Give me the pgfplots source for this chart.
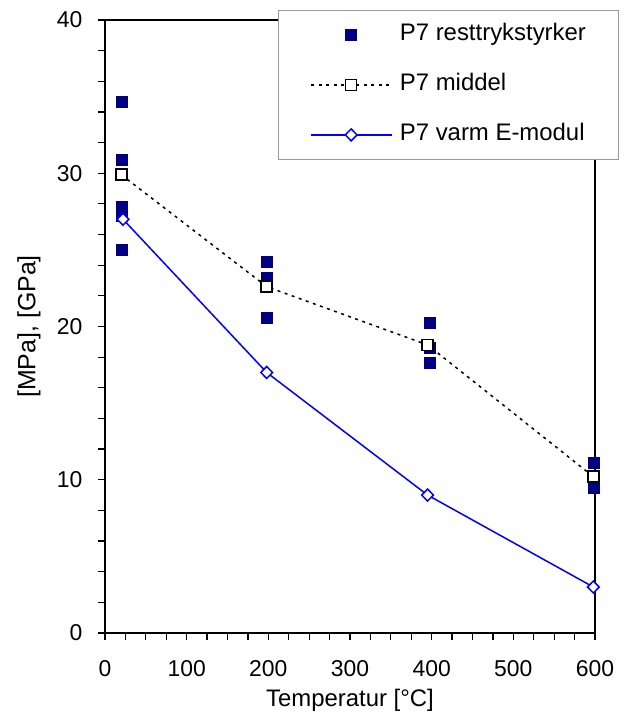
\documentclass[border=0pt]{standalone}
\usepackage{fontspec}
\setmainfont{Liberation Sans}
\usepackage{pgfplots}
\pgfplotsset{compat=1.18}
\definecolor{navy}{RGB}{0,0,128}
\definecolor{eblue}{RGB}{0,0,255}
\begin{document}
\begin{tikzpicture}
\useasboundingbox (-105bp,-84bp) rectangle (524bp,633bp);
\begin{axis}[
  scale only axis, width=490bp, height=613bp,
  at={(0,0)}, anchor=south west,
  xmin=0, xmax=600, ymin=0, ymax=40,
  xtick={0,100,...,600}, ytick={0,10,...,40},
  minor x tick num=3, minor y tick num=4,
  xtick pos=bottom, ytick pos=left,
  tick align=outside, major tick length=7bp, minor tick length=7bp,
  axis line style={line width=1.2bp},
  tick style={line width=1.2bp, black},
  font=\fontsize{23}{27}\selectfont,
  /pgf/number format/assume math mode=true,
  xticklabel style={yshift=-17bp},
  yticklabel style={xshift=-12bp},
  xlabel={Temperatur [°C]}, ylabel={[MPa], [GPa]},
  xlabel style={at={(axis description cs:0.5,-0.1207)}, anchor=base, font=\fontsize{24}{28}\selectfont},
  ylabel style={at={(axis description cs:-0.155,0.5)}, anchor=center, font=\fontsize{25}{29}\selectfont},
  legend cell align=left,
  legend image code/.code={\draw[mark repeat=2,mark phase=2,#1] plot coordinates {(0bp,0bp)(40bp,0bp)(81bp,0bp)};},
  legend style={at={(0.3531,1.0163)}, anchor=north west, draw=gray!80, line width=0.8bp, fill=white,
    inner xsep=32bp, inner ysep=13.5bp, row sep=28bp,
    nodes={inner sep=0pt, text height=17bp, text depth=5bp},
    /tikz/every odd column/.append style={column sep=7bp},
    font=\fontsize{24}{28}\selectfont},
]
\addplot[only marks, mark=square*, mark size=5.5bp, color=navy, mark options={fill=navy, draw=navy}]
  coordinates {(20,34.7) (20,30.9) (20,27.8) (20,27.2) (20,25.0)
               (198,24.2) (198,23.2) (198,20.6)
               (397,20.25) (397,18.6) (397,17.65)
               (598,11.1) (598,9.45)};
\addlegendentry{P7 resttrykstyrker}
\addplot[black, line width=1.5bp, dash pattern=on 3bp off 4.5bp, mark=square*, mark size=5.5bp,
  mark options={solid, fill=white, draw=black, line width=1.6bp}]
  coordinates {(20,29.9) (198,22.6) (395,18.8) (598,10.2)};
\addlegendentry{P7 middel}
\addplot[eblue, line width=1.5bp, mark=diamond*, mark size=6bp,
  mark options={solid, fill=white, draw=eblue, line width=1.5bp, xscale=1.3}]
  coordinates {(22,27.0) (198,17.0) (395,9.0) (598,3.0)};
\addlegendentry{P7 varm E-modul}
\end{axis}
\end{tikzpicture}
\end{document}
